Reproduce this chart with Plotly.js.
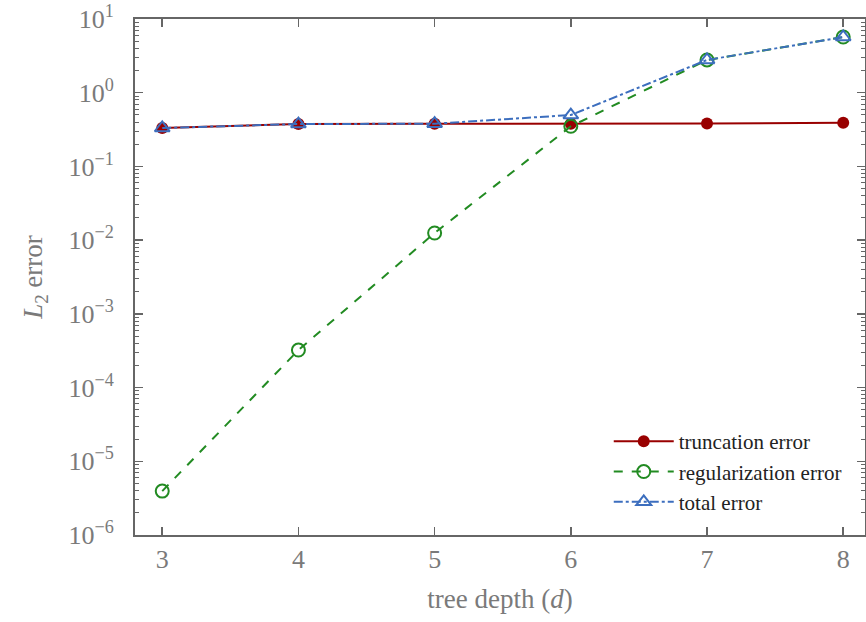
<!DOCTYPE html>
<html><head><meta charset="utf-8">
<script src="https://cdn.plot.ly/plotly-3.0.1.min.js"></script>
<style>html,body{margin:0;padding:0;background:#fff}</style>
</head><body>
<div id="chart" style="width:866px;height:622px"></div>
<script>
const depth = [3, 4, 5, 6, 7, 8];
const truncationError = [0.332, 0.376, 0.380, 0.380, 0.382, 0.390];
const regularizationError = [3.94e-6, 3.23e-4, 0.0125, 0.350, 2.78, 5.7];
const totalError = [0.332, 0.376, 0.380, 0.498, 2.78, 5.7];
const yTickExp = [-6, -5, -4, -3, -2, -1, 0, 1];

const yTickVals = yTickExp.map(e => Math.pow(10, e));
const yTickText = yTickExp.map(e => '10<sup>' + (e < 0 ? '\u2212' + (-e) : e) + '</sup>');
const minorVals = [];
for (let e = -6; e < 1; e++) for (let k = 2; k <= 9; k++) minorVals.push(k * Math.pow(10, e));

const serif = 'Liberation Serif, Times New Roman, serif';
const traces = [
  {x: depth, y: truncationError, name: 'truncation error', mode: 'lines+markers',
   line: {color: '#990000', width: 2},
   marker: {symbol: 'circle', size: 12, color: '#990000'}},
  {x: depth, y: regularizationError, name: 'regularization error', mode: 'lines+markers',
   line: {color: '#228B22', width: 2, dash: 'dash'},
   marker: {symbol: 'circle-open', size: 13, color: '#228B22', line: {width: 2}}},
  {x: depth, y: totalError, name: 'total error', mode: 'lines+markers',
   line: {color: '#3C6EBE', width: 2, dash: 'dashdot'},
   marker: {symbol: 'triangle-up-open', size: 13, color: '#3C6EBE', line: {width: 2}}}
];
const layout = {
  width: 866, height: 622,
  margin: {l: 135, r: 1, t: 19, b: 87},
  paper_bgcolor: '#fff', plot_bgcolor: '#fff',
  showlegend: true,
  legend: {x: 0.975, y: 0.025, xanchor: 'right', yanchor: 'bottom',
           font: {family: serif, size: 21, color: '#222'}, bgcolor: 'rgba(0,0,0,0)',
           tracegroupgap: 0, itemwidth: 60},
  xaxis: {range: [2.8, 8.16], tickvals: depth, ticks: 'inside', ticklen: 8, tickwidth: 1.5,
          tickcolor: '#666', showline: true, linecolor: '#666', linewidth: 2, mirror: 'ticks',
          showgrid: false, zeroline: false,
          tickfont: {family: serif, size: 26, color: '#7a7a7a'},
          title: {text: 'tree depth (<i>d</i>)', font: {family: serif, size: 27, color: '#7a7a7a'}, standoff: 16}},
  yaxis: {type: 'log', range: [-6, 1], tickvals: yTickVals, ticktext: yTickText,
          ticks: 'inside', ticklen: 8, tickwidth: 1.5, tickcolor: '#666',
          minor: {tickmode: 'array', tickvals: minorVals, ticks: 'inside', ticklen: 4, tickwidth: 1, tickcolor: '#666', showgrid: false},
          showline: true, linecolor: '#666', linewidth: 2, mirror: 'ticks',
          showgrid: false, zeroline: false, ticklabelstandoff: 14,
          tickfont: {family: serif, size: 26, color: '#7a7a7a'},
          title: {text: '<i>L</i><sub>2</sub> error', font: {family: serif, size: 27, color: '#7a7a7a'}, standoff: 18}}
};
Plotly.newPlot('chart', traces, layout, {displayModeBar: false, staticPlot: true});
</script>
</body></html>
